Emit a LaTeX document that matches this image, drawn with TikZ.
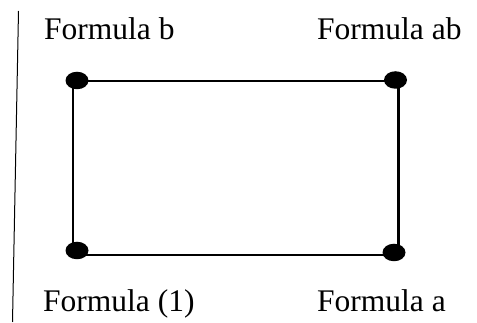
\documentclass[tikz,border=0pt]{standalone}
\usepackage{fontspec}
\setmainfont{Liberation Serif}
\usetikzlibrary{shapes.geometric}

\begin{document}
\begin{tikzpicture}[
  x=1pt, y=-1pt,
  label/.style={
    anchor=base west,
    inner sep=0pt,
    font=\fontsize{31.5}{36}\selectfont
  },
  dot/.style={
    ellipse,
    fill,
    minimum width=23pt,
    minimum height=17.5pt,
    inner sep=0pt
  },
  edge/.style={line width=2.6pt, line join=miter}
]
\useasboundingbox (0,0) rectangle (477,323);
% margin rule
\coordinate (ruletop) at (18.5,11);
\coordinate (rulebot) at (12.5,322);
\draw[line width=1pt] (ruletop) -- (rulebot);
% rectangle corners
\coordinate (cb) at (73,81);
\coordinate (cab) at (398.5,81);
\coordinate (ca) at (398.5,255);
\coordinate (c1) at (73,255);
\draw[edge] (cb) -- (cab) -- (ca) -- (c1) -- cycle;
% dots
\node[dot] (db) at (77,80.5) {};
\node[dot] (dab) at (395.5,80) {};
\node[dot] (da) at (394,252.5) {};
\node[dot] (d1) at (77,250.5) {};
% labels
\node[label] (lb) at (44,40) {Formula b};
\node[label] (lab) at (317,40) {Formula ab};
\node[label] (l1) at (43,312) {Formula (1)};
\node[label] (la) at (317,312) {Formula a};
\end{tikzpicture}
\end{document}
